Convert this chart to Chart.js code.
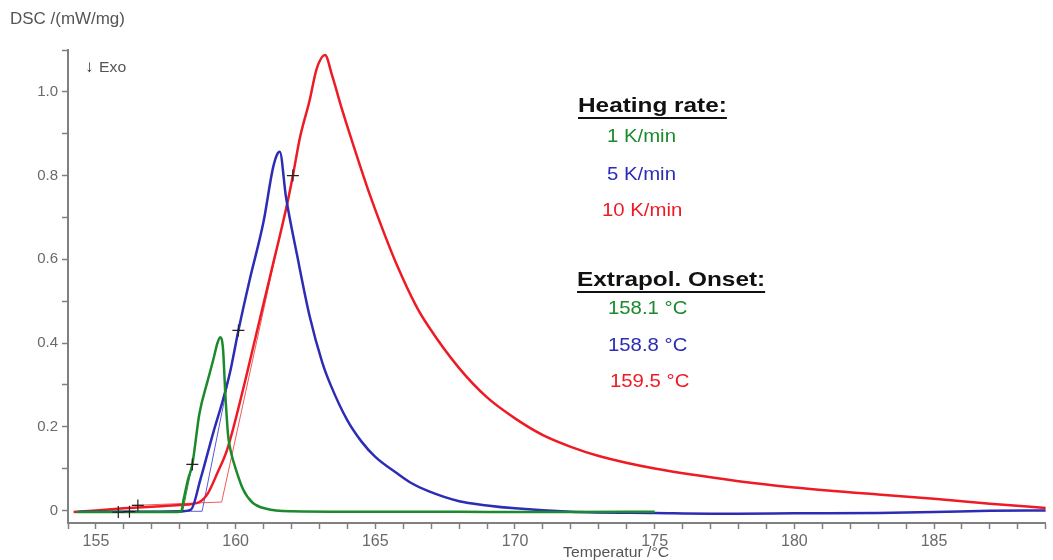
<!DOCTYPE html>
<html>
<head>
<meta charset="utf-8">
<script src="https://cdn.jsdelivr.net/npm/chart.js@4.4.1/dist/chart.umd.min.js"></script>
<style>
  html, body { margin: 0; padding: 0; background: #fff; }
</style>
</head>
<body>
<canvas id="grafico_dsc" width="1053" height="560"></canvas>
<script>
// Dados (temperatura em °C, DSC em mW/mg)
const tempVerde = [154.3, 155, 156, 157, 157.8, 158.05, 158.15, 158.3, 158.45, 158.7, 159.0, 159.2, 159.35, 159.45, 159.55, 159.63, 159.73, 159.85, 160.0, 160.27, 160.6, 161.1, 162, 164, 166, 168, 170, 172, 175];
const dscVerde  = [-0.004, -0.004, -0.004, -0.004, -0.004, -0.002, 0.03, 0.075, 0.11, 0.23, 0.31, 0.36, 0.40, 0.414, 0.385, 0.28, 0.18, 0.135, 0.10, 0.05, 0.019, 0.004, -0.002, -0.003, -0.003, -0.003, -0.004, -0.004, -0.003];

const tempAzul = [154.4, 155, 156, 157, 158, 158.4, 158.74, 159.2, 159.55, 159.8, 160.1, 160.5, 161.0, 161.33, 161.48, 161.58, 161.8, 162.2, 162.65, 163.1, 163.4, 164.0, 164.5, 165.0, 165.75, 166.3, 166.9, 168, 169, 170, 172, 175, 178, 180, 183, 185, 187, 189];
const dscAzul  = [-0.003, -0.003, -0.003, -0.003, -0.002, 0.002, 0.074, 0.186, 0.265, 0.33, 0.43, 0.55, 0.69, 0.816, 0.85, 0.857, 0.75, 0.61, 0.464, 0.354, 0.30, 0.215, 0.165, 0.128, 0.09, 0.065, 0.046, 0.022, 0.012, 0.005, -0.003, -0.006, -0.008, -0.007, -0.006, -0.004, -0.001, 0.0];

const tempVermelho = [154.2, 155, 156, 157, 158, 158.7, 159.0, 159.35, 159.7, 160.27, 160.77, 161.2, 161.87, 162.05, 162.3, 162.65, 162.9, 163.2, 163.45, 163.8, 164.3, 164.8, 165.3, 165.75, 166.45, 166.9, 168, 169, 170, 171, 172, 173, 175, 178, 180, 183, 185, 187, 189];
const dscVermelho  = [-0.004, 0.0, 0.005, 0.009, 0.013, 0.02, 0.04, 0.09, 0.146, 0.29, 0.43, 0.55, 0.74, 0.80, 0.89, 0.98, 1.055, 1.088, 1.04, 0.96, 0.855, 0.755, 0.665, 0.59, 0.49, 0.44, 0.34, 0.27, 0.22, 0.18, 0.152, 0.13, 0.10, 0.07, 0.055, 0.038, 0.028, 0.016, 0.006];

// linhas de extrapolação (onset)
const tempTangVerde = [155.6, 158.1, 158.45];
const dscTangVerde  = [-0.004, -0.004, 0.11];
const tempTangAzul = [155.8, 158.8, 160.1];
const dscTangAzul  = [-0.002, -0.002, 0.43];
const tempTangVermelho = [156.3, 159.5, 162.05];
const dscTangVermelho  = [0.012, 0.02, 0.80];

// marcadores "+"
const tempCruz = [155.8, 156.2, 156.5, 158.45, 160.1, 162.05];
const dscCruz  = [-0.004, -0.003, 0.012, 0.11, 0.43, 0.80];

// textos
const taxas = ['1 K/min', '5 K/min', '10 K/min'];
const onsets = ['158.1 °C', '158.8 °C', '159.5 °C'];

// eixos
const xRotulos = [155, 160, 165, 170, 175, 180, 185];
const yRotulos = [0, 0.2, 0.4, 0.6, 0.8, 1.0];

const verde = '#1c8a2c';
const azul = '#2c2cb4';
const vermelho = '#ee1b24';
const fonte = '"Liberation Sans", Arial, sans-serif';

const pontos = (t, v) => t.map((x, i) => ({ x: x, y: v[i] }));

// ticks menores de 1 em 1 grau e de 0.1 em 0.1
const xTicks = [];
for (let i = 154; i <= 189; i++) xTicks.push(i);
const yTicks = [];
for (let i = 0; i <= 11; i++) yTicks.push(i / 10);

function texto(ctx, s, x, y, font, cor, sx) {
  ctx.save();
  ctx.translate(x, y);
  ctx.scale(sx, 1);
  ctx.font = font;
  ctx.fillStyle = cor;
  ctx.textBaseline = 'middle';
  ctx.textAlign = 'left';
  ctx.fillText(s, 0, 0);
  ctx.restore();
}

function titulo(ctx, s, x, y) {
  const sx = 1.16;
  ctx.save();
  ctx.font = 'bold 21px ' + fonte;
  const w = ctx.measureText(s).width * sx;
  ctx.restore();
  texto(ctx, s, x, y, 'bold 21px ' + fonte, '#111', sx);
  ctx.save();
  ctx.strokeStyle = '#111';
  ctx.lineWidth = 2;
  ctx.beginPath();
  ctx.moveTo(x, y + 12);
  ctx.lineTo(x + w, y + 12);
  ctx.stroke();
  ctx.restore();
}

const textos = {
  id: 'textos',
  afterDraw(chart) {
    const ctx = chart.ctx;
    texto(ctx, 'DSC /(mW/mg)', 10, 20, '16px ' + fonte, '#555', 1.06);
    texto(ctx, '↓', 85, 67, '17px ' + fonte, '#333', 1);
    texto(ctx, 'Exo', 99, 68, '15px ' + fonte, '#555', 1.05);
    texto(ctx, 'Temperatur /°C', 563, 553, '15px ' + fonte, '#555', 1.05);

    titulo(ctx, 'Heating rate:', 578, 106);
    const cores = [verde, azul, vermelho];
    const yTaxa = [137, 175, 211];
    const xTaxa = [607, 607, 602];
    taxas.forEach((s, i) => texto(ctx, s, xTaxa[i], yTaxa[i], '18px ' + fonte, cores[i], 1.13));

    titulo(ctx, 'Extrapol. Onset:', 577, 280);
    const yOnset = [309, 346, 382];
    const xOnset = [608, 608, 610];
    onsets.forEach((s, i) => texto(ctx, s, xOnset[i], yOnset[i], '18px ' + fonte, cores[i], 1.13));
  }
};

const curva = { borderWidth: 2.5, pointRadius: 0, cubicInterpolationMode: 'monotone' };

new Chart(document.getElementById('grafico_dsc'), {
  type: 'line',
  data: {
    datasets: [
      {
        type: 'scatter',
        data: pontos(tempCruz, dscCruz),
        pointStyle: 'cross',
        pointRadius: 6,
        borderColor: '#222',
        borderWidth: 1.2,
        showLine: false
      },
      { ...curva, data: pontos(tempVerde, dscVerde), borderColor: verde },
      { ...curva, data: pontos(tempAzul, dscAzul), borderColor: azul },
      { ...curva, data: pontos(tempVermelho, dscVermelho), borderColor: vermelho },
      { data: pontos(tempTangVerde, dscTangVerde), borderColor: '#3a9a4a', borderWidth: 1, pointRadius: 0 },
      { data: pontos(tempTangAzul, dscTangAzul), borderColor: '#5a5ad6', borderWidth: 1, pointRadius: 0 },
      { data: pontos(tempTangVermelho, dscTangVermelho), borderColor: '#f25a5a', borderWidth: 1, pointRadius: 0 }
    ]
  },
  options: {
    responsive: false,
    animation: false,
    devicePixelRatio: 1,
    layout: { padding: { top: 50, right: 3, left: 0, bottom: 0 } },
    plugins: {
      legend: false,
      tooltip: { enabled: false }
    },
    scales: {
      x: {
        type: 'linear',
        min: 154,
        max: 189,
        afterBuildTicks: (s) => { s.ticks = xTicks.map(v => ({ value: v })); },
        afterFit: (s) => { s.height = 37; },
        grid: { drawOnChartArea: false, drawTicks: true, tickLength: 6, color: '#808080', tickWidth: 1.5 },
        border: { color: '#808080', width: 2 },
        ticks: {
          autoSkip: false,
          maxRotation: 0,
          padding: 3,
          color: '#6a6a6a',
          font: { family: fonte, size: 16 },
          callback: (v) => xRotulos.includes(v) ? String(v) : ''
        }
      },
      y: {
        type: 'linear',
        min: -0.03,
        max: 1.1,
        afterBuildTicks: (s) => { s.ticks = yTicks.map(v => ({ value: v })); },
        afterFit: (s) => { s.width = 68; },
        grid: { drawOnChartArea: false, drawTicks: true, tickLength: 6, color: '#808080', tickWidth: 1.5 },
        border: { color: '#808080', width: 2 },
        ticks: {
          autoSkip: false,
          padding: 4,
          color: '#6a6a6a',
          font: { family: fonte, size: 15 },
          callback: (v) => {
            const k = yRotulos.findIndex(r => Math.abs(r - v) < 1e-9);
            if (k < 0) return '';
            return yRotulos[k] === 0 ? '0' : yRotulos[k].toFixed(1);
          }
        }
      }
    }
  },
  plugins: [textos]
});
</script>
</body>
</html>
